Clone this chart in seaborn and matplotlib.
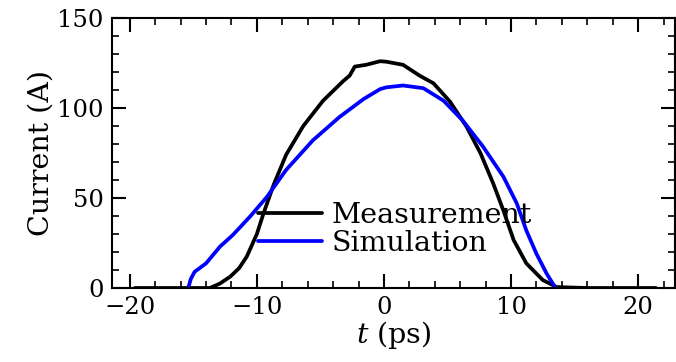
import numpy as np
import pandas as pd
import matplotlib
matplotlib.use('Agg')
import matplotlib.pyplot as plt
import seaborn as sns
from matplotlib.ticker import MultipleLocator

# 测量电流曲线
meas_t = [-19.6, -16.0, -14.5, -13.7, -12.9, -12.1, -11.4, -10.8, -10.0, -9.5, -8.7, -7.7,
          -6.35, -4.8, -3.2, -2.7, -2.3, -1.4, -0.3, 0.2, 1.5, 2.8, 3.9, 5.2,
          6.5, 7.6, 8.6, 9.4, 10.2, 11.2, 12.5, 13.6, 16.0, 21.4]
meas_i = [0, 0, 0, 0, 2.5, 6.3, 11, 17.4, 30, 41, 57, 74,
          90, 104, 115, 118, 123, 124, 126, 125.7, 124, 118, 113.7, 103.5,
          89.6, 74.8, 58, 43, 26.7, 13.7, 4.4, 0.5, 0, 0]

# 模拟电流曲线
sim_t = [-15.4, -15.2, -14.9, -14.0, -12.9, -11.9, -10.55, -9.2, -7.7, -5.6,
         -3.5, -1.6, -0.3, 0.2, 1.5, 3.1, 4.7, 6.2, 7.8, 9.4, 10.45, 11.2,
         12.0, 12.8, 13.5]
sim_i = [0, 5, 9, 13.7, 23, 29.4, 39.6, 50.7, 65.6, 82,
         95, 105, 110.5, 111.5, 112.5, 111, 104, 93, 78.5, 61.8, 47, 32,
         19, 8, 0]

sns.set_theme(style='ticks')
plt.rcParams['font.family'] = ['DejaVu Serif', 'DejaVu Sans']
plt.rcParams['mathtext.fontset'] = 'dejavuserif'
plt.rcParams['text.color'] = 'black'
plt.rcParams['axes.labelcolor'] = 'black'

fig = plt.figure(figsize=(6.76, 3.62), dpi=100)
ax = fig.add_axes([112 / 676, 74 / 362, 563 / 676, 270 / 362])

sns.lineplot(x=meas_t, y=meas_i, ax=ax, color='black', linewidth=2.7,
             label='Measurement', sort=False, estimator=None)
sns.lineplot(x=sim_t, y=sim_i, ax=ax, color='#0000ff', linewidth=2.7,
             label='Simulation', sort=False, estimator=None)
for ln in ax.get_lines():
    ln.set_solid_joinstyle('round')

ax.set_xlim(-21.4, 22.9)
ax.set_ylim(0, 150)
ax.xaxis.set_major_locator(MultipleLocator(10))
ax.xaxis.set_minor_locator(MultipleLocator(2))
ax.yaxis.set_major_locator(MultipleLocator(50))
ax.yaxis.set_minor_locator(MultipleLocator(10))
ax.tick_params(which='both', direction='in', top=True, right=True,
               colors='black', labelsize=17.5)
ax.tick_params(which='major', length=10, width=1.5, pad=6)
ax.tick_params(which='minor', length=5, width=1.2)
for s in ax.spines.values():
    s.set_linewidth(1.5)
    s.set_color('black')

ax.set_xlabel('$t$ (ps)', fontsize=20.5, labelpad=0)
ax.set_ylabel('Current (A)', fontsize=20.5, labelpad=2)

ax.legend(loc='lower left', bbox_to_anchor=(0.259, 0.115), frameon=False,
          fontsize=20.5, handlelength=2.25, handletextpad=0.35, labelspacing=0.02,
          borderpad=0, borderaxespad=0)

fig.savefig('out.png', dpi=100)
plt.close(fig)
